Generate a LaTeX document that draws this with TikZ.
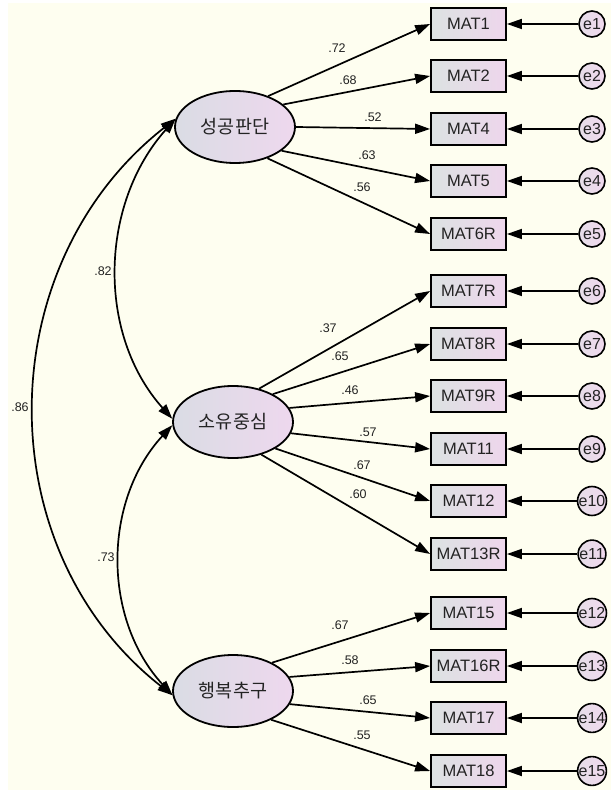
\documentclass[tikz,border=0pt]{standalone}
\usepackage{fontspec}
\setmainfont{Liberation Sans}
\newfontfamily\kr{Noto Sans CJK KR}
\usetikzlibrary{arrows.meta,shapes.geometric}
\definecolor{bgc}{RGB}{254,254,240}
\definecolor{ellL}{RGB}{218,220,228}
\definecolor{ellR}{RGB}{238,216,238}
\definecolor{boxL}{RGB}{220,226,226}
\definecolor{boxR}{RGB}{238,214,236}
\definecolor{errL}{RGB}{230,222,232}
\definecolor{errR}{RGB}{240,216,238}
\definecolor{txt}{RGB}{35,35,35}
\begin{document}
\begin{tikzpicture}[x=1pt,y=-1pt,
  lat/.style={ellipse,draw,line width=1.8pt,minimum width=120pt,minimum height=72pt,inner sep=0pt,left color=ellL,right color=ellR,text=txt,font=\kr\fontsize{18.5}{18.5}\selectfont},
  obs/.style={rectangle,draw,line width=1.8pt,minimum width=75pt,minimum height=32pt,inner sep=0pt,left color=boxL,right color=boxR,text=txt,font=\fontsize{16.5}{16.5}\selectfont},
  err/.style={circle,draw,line width=1.6pt,minimum size=26pt,inner sep=0pt,left color=errL,right color=errR,text=txt,font=\fontsize{16}{16}\selectfont},
  load/.style={line width=1.7pt,-{Triangle[length=15pt,width=10pt]}},
  cov/.style={line width=1.7pt,{Triangle[length=15pt,width=10pt]}-{Triangle[length=15pt,width=10pt]}},
  lbl/.style={inner sep=0pt,text=txt,font=\fontsize{12.5}{12.5}\selectfont}]
\useasboundingbox (0,0) rectangle (611,791);
\fill[white] (0,0) rectangle (611,791);
\fill[bgc] (8,3) rectangle (611,790);
% latent factors
\node[lat] (f1) at (235,127) {성공판단};
\node[lat] (f2) at (233,422) {소유중심};
\node[lat] (f3) at (233,691) {행복추구};
% indicators and errors
\foreach \n/\t/\y in {1/MAT1/24,2/MAT2/76,3/MAT4/129,4/MAT5/181,5/MAT6R/234,
  6/MAT7R/291,7/MAT8R/344,8/MAT9R/396,9/MAT11/449,10/MAT12/501,11/MAT13R/554,
  12/MAT15/613,13/MAT16R/666,14/MAT17/718,15/MAT18/771}{
  \node[obs] (b\n) at (468.5,\y) {\t};
  \node[err] (e\n) at (592,\y) {e\n};
  \draw[load] (e\n.west) -- (b\n.east);
}
% loadings
\foreach \f/\n/\a/\v/\lx/\ly in {
  1/1/43/.72/337/48, 1/2/25/.68/348/80, 1/3/0/.52/373/117, 1/4/-27/.63/367/155, 1/5/-44/.56/362/187,
  2/6/52/.37/328/328, 2/7/35/.65/340/356, 2/8/14/.46/350/390, 2/9/-11/.57/368/432, 2/10/-32/.67/362/465, 2/11/-49/.60/358/494,
  3/12/36/.67/340/625, 3/13/14/.58/350/660, 3/14/-13/.65/368/700, 3/15/-37/.55/362/735}{
  \draw[load] (f\f.\a) -- (b\n.west);
  \node[lbl] (l\n) at (\lx,\ly) {\v};
}
% covariances
\draw[cov] (f1.172) .. controls +(-76,85) and +(-76,-85) .. (f2.177);
\draw[cov] (f1.172) .. controls +(-186,146) and +(-186,-146) .. (f3.184);
\draw[cov] (f2.183) .. controls +(-70,76) and +(-70,-76) .. (f3.184);
\node[lbl] (c12) at (103,271) {.82};
\node[lbl] (c13) at (20,407) {.86};
\node[lbl] (c23) at (106,557) {.73};
\end{tikzpicture}
\end{document}
